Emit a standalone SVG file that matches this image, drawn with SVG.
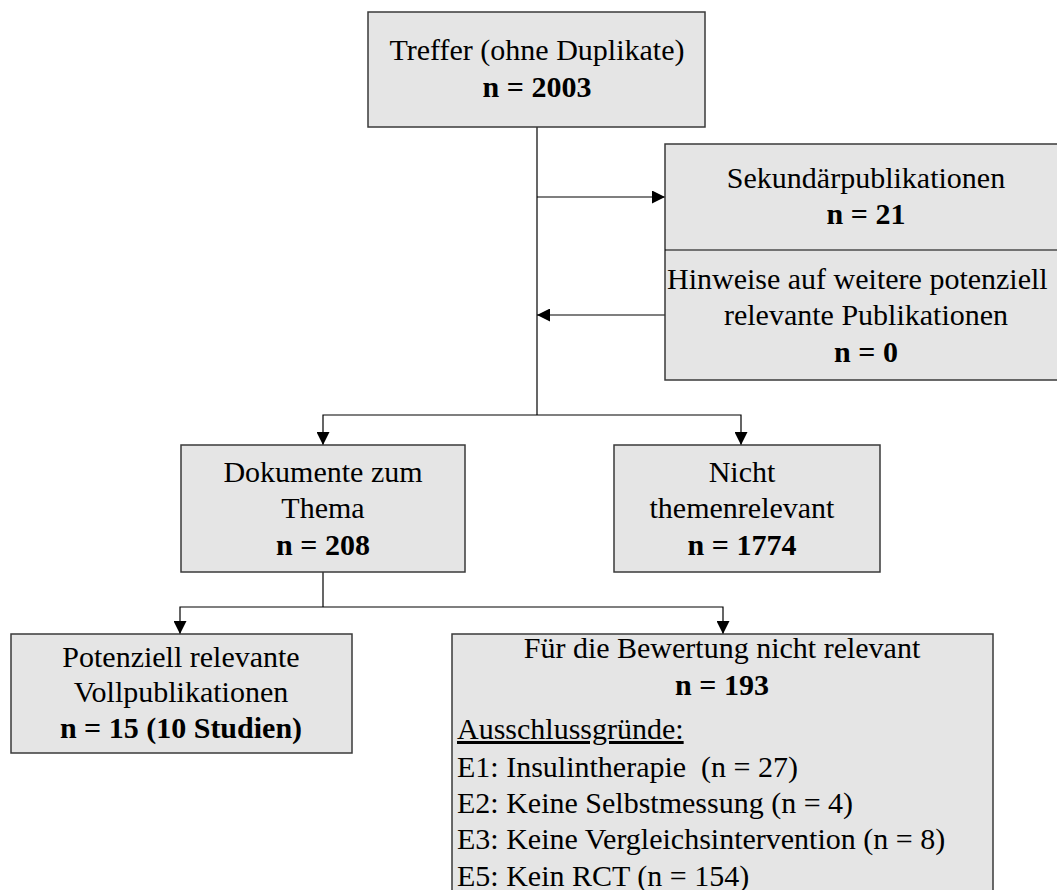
<svg xmlns="http://www.w3.org/2000/svg" width="1057" height="890" viewBox="0 0 1057 890">
<style>
.box{fill:#e5e5e5;stroke:#3a3a3a;stroke-width:1.5}
.t{font-family:"Liberation Serif","Times New Roman",serif;font-size:30px;fill:#000}
.c{text-anchor:middle}
.b{font-weight:bold}
.ln{fill:none;stroke:#000;stroke-width:1.2}
</style>
<defs>
<marker id="arr" markerUnits="userSpaceOnUse" markerWidth="13" markerHeight="13" refX="13" refY="6.5" orient="auto">
<path d="M0,0 L13,6.5 L0,13 z" fill="#000"/>
</marker>
</defs>
<rect width="1057" height="890" fill="#fff"/>
<g id="connectors">
<path class="ln" d="M537,127 V415"/>
<path class="ln" d="M537,197 H665" marker-end="url(#arr)"/>
<path class="ln" d="M665,315 H537" marker-end="url(#arr)"/>
<path class="ln" d="M537,415 H323 V445" marker-end="url(#arr)"/>
<path class="ln" d="M537,415 H741 V445" marker-end="url(#arr)"/>
<path class="ln" d="M323,572 V607"/>
<path class="ln" d="M323,607 H180 V634" marker-end="url(#arr)"/>
<path class="ln" d="M323,607 H723 V634" marker-end="url(#arr)"/>
</g>
<g id="treffer">
<rect class="box" x="368" y="12" width="337" height="115"/>
<text class="t c" x="537" y="60">Treffer (ohne Duplikate)</text>
<text class="t c b" x="537" y="97">n = 2003</text>
</g>
<g id="sekundaer">
<rect class="box" x="665" y="144" width="410" height="236"/>
<line x1="665" y1="250" x2="1075" y2="250" stroke="#000" stroke-width="1.2"/>
<text class="t c" x="866" y="188">Sekundärpublikationen</text>
<text class="t c b" x="866" y="224">n = 21</text>
<text class="t" x="667" y="289">Hinweise auf weitere potenziell</text>
<text class="t c" x="866" y="325">relevante Publikationen</text>
<text class="t c b" x="866" y="362">n = 0</text>
</g>
<g id="dokumente">
<rect class="box" x="181" y="445" width="284" height="127"/>
<text class="t c" x="323" y="482">Dokumente zum</text>
<text class="t c" x="323" y="518">Thema</text>
<text class="t c b" x="323" y="555">n = 208</text>
</g>
<g id="nicht">
<rect class="box" x="614" y="445" width="266" height="127"/>
<text class="t c" x="742" y="482">Nicht</text>
<text class="t c" x="742" y="518">themenrelevant</text>
<text class="t c b" x="742" y="555">n = 1774</text>
</g>
<g id="potenziell">
<rect class="box" x="11" y="634" width="341" height="119"/>
<text class="t c" x="181" y="667">Potenziell relevante</text>
<text class="t c" x="181" y="702">Vollpublikationen</text>
<text class="t c b" x="181" y="738">n = 15 (10 Studien)</text>
</g>
<g id="nichtrelevant">
<rect class="box" x="452" y="634" width="541" height="270"/>
<text class="t c" x="722" y="658">Für die Bewertung nicht relevant</text>
<text class="t c b" x="722" y="695">n = 193</text>
<text class="t" x="457" y="739" text-decoration="underline">Ausschlussgründe:</text>
<text class="t" x="457" y="777" xml:space="preserve">E1: Insulintherapie  (n = 27)</text>
<text class="t" x="457" y="813">E2: Keine Selbstmessung (n = 4)</text>
<text class="t" x="457" y="849">E3: Keine Vergleichsintervention (n = 8)</text>
<text class="t" x="457" y="886">E5: Kein RCT (n = 154)</text>
</g>
</svg>
